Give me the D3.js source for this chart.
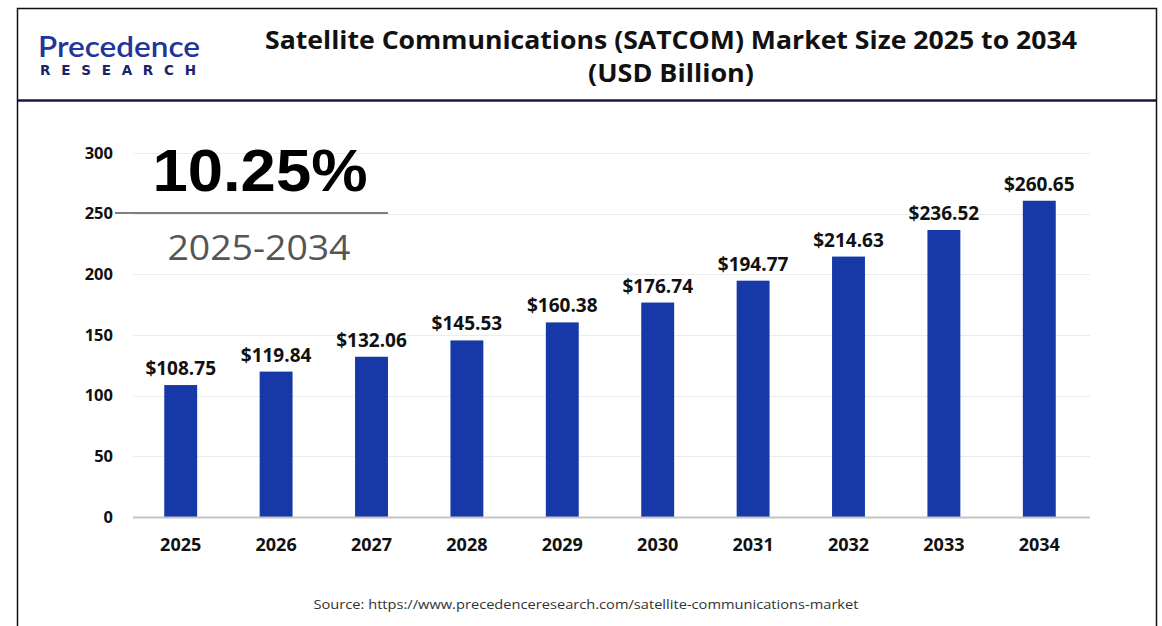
<!DOCTYPE html>
<html>
<head>
<meta charset="utf-8">
<script src="https://cdn.jsdelivr.net/npm/d3@7"></script>
<style>
  html, body { margin: 0; padding: 0; background: #fff; }
  svg { display: block; }
</style>
</head>
<body>
<svg id="chart" width="1162" height="626"></svg>
<script>
// Market size by year, USD billion
const years = ["2025", "2026", "2027", "2028", "2029", "2030", "2031", "2032", "2033", "2034"];
const marketSize = [108.75, 119.84, 132.06, 145.53, 160.38, 176.74, 194.77, 214.63, 236.52, 260.65];
const yTicks = [0, 50, 100, 150, 200, 250, 300];
const titleLines = ["Satellite Communications (SATCOM) Market Size 2025 to 2034", "(USD Billion)"];
const cagrText = "10.25%";
const cagrPeriod = "2025-2034";
const sourceText = "Source: https://www.precedenceresearch.com/satellite-communications-market";

const svg = d3.select("#chart");
const W = 1162, H = 626;

// Frame and header divider
svg.append("rect").attr("x", 0).attr("y", 0).attr("width", W).attr("height", H).attr("fill", "#fff");
svg.append("path")
  .attr("d", `M17.5,${H} V8.5 H1156.5 V${H}`)
  .attr("fill", "none").attr("stroke", "#111").attr("stroke-width", 1.5);
svg.append("line")
  .attr("x1", 18).attr("x2", 1156).attr("y1", 100.5).attr("y2", 100.5)
  .attr("stroke", "#14184a").attr("stroke-width", 2.5);

// Logo
const logo = svg.append("g");
logo.append("text")
  .attr("x", 38).attr("y", 57)
  .attr("font-family", "Lato, 'Open Sans', sans-serif")
  .attr("font-size", 29).attr("font-weight", 600)
  .attr("fill", "#22359a")
  .attr("textLength", 162).attr("lengthAdjust", "spacingAndGlyphs")
  .text("Precedence");
logo.append("text")
  .attr("x", 40).attr("y", 75)
  .attr("font-family", "'DejaVu Sans', sans-serif")
  .attr("font-size", 13.5).attr("font-weight", 700)
  .attr("fill", "#17246b")
  .attr("textLength", 156).attr("lengthAdjust", "spacing")
  .text("RESEARCH");

// Title
svg.append("text")
  .attr("x", 671).attr("y", 49)
  .attr("text-anchor", "middle")
  .attr("font-family", "'Open Sans', sans-serif")
  .attr("font-size", 25).attr("font-weight", 700)
  .attr("fill", "#111")
  .attr("textLength", 812).attr("lengthAdjust", "spacingAndGlyphs")
  .text(titleLines[0]);
svg.append("text")
  .attr("x", 671).attr("y", 82)
  .attr("text-anchor", "middle")
  .attr("font-family", "'Open Sans', sans-serif")
  .attr("font-size", 25).attr("font-weight", 700)
  .attr("fill", "#111")
  .attr("textLength", 166).attr("lengthAdjust", "spacingAndGlyphs")
  .text(titleLines[1]);

// Scales
const x = d3.scaleBand().domain(years).range([133, 1087]).paddingInner(0.655).paddingOuter(0.3275);
const y = d3.scaleLinear().domain([0, 300]).range([517, 153]);

// Gridlines
svg.append("g")
  .selectAll("line")
  .data(yTicks.filter(d => d > 0))
  .join("line")
  .attr("x1", 133).attr("x2", 1090)
  .attr("y1", d => Math.round(y(d)) + 0.5).attr("y2", d => Math.round(y(d)) + 0.5)
  .attr("stroke", "#ececec").attr("stroke-width", 1);

// Y axis labels
const yAxis = svg.append("g")
  .attr("transform", "translate(113,0)")
  .call(d3.axisLeft(y).tickValues(yTicks).tickSize(0).tickPadding(0));
yAxis.select(".domain").remove();
yAxis.selectAll("text")
  .attr("font-family", "'Open Sans', sans-serif")
  .attr("font-size", 16.5).attr("font-weight", 700)
  .attr("fill", "#111");

// Bars
svg.append("g")
  .selectAll("rect")
  .data(years.map((yr, i) => ({ yr, v: marketSize[i] })))
  .join("rect")
  .attr("x", d => x(d.yr))
  .attr("width", x.bandwidth())
  .attr("y", d => y(d.v))
  .attr("height", d => y(0) - y(d.v))
  .attr("fill", "#1739a8");

// Baseline
svg.append("line")
  .attr("x1", 133).attr("x2", 1090)
  .attr("y1", y(0) + 0.5).attr("y2", y(0) + 0.5)
  .attr("stroke", "#c4c4c4").attr("stroke-width", 2);

// X axis labels
const xAxis = svg.append("g")
  .attr("transform", `translate(0,${y(0)})`)
  .call(d3.axisBottom(x).tickSize(0).tickPadding(21));
xAxis.select(".domain").remove();
xAxis.selectAll("text")
  .attr("font-family", "'Open Sans', sans-serif")
  .attr("font-size", 18).attr("font-weight", 700)
  .attr("fill", "#111");

// Value labels
svg.append("g")
  .selectAll("text")
  .data(years.map((yr, i) => ({ yr, v: marketSize[i] })))
  .join("text")
  .attr("x", d => x(d.yr) + x.bandwidth() / 2)
  .attr("y", d => y(d.v) - 10)
  .attr("text-anchor", "middle")
  .attr("font-family", "'Open Sans', sans-serif")
  .attr("font-size", 19).attr("font-weight", 700)
  .attr("fill", "#111")
  .text(d => "$" + d3.format(".2f")(d.v));

// CAGR callout
svg.append("text")
  .attr("x", 260).attr("y", 191)
  .attr("text-anchor", "middle")
  .attr("font-family", "'Liberation Sans', Arial, sans-serif")
  .attr("font-size", 60).attr("font-weight", 700)
  .attr("fill", "#000")
  .attr("textLength", 215).attr("lengthAdjust", "spacingAndGlyphs")
  .text(cagrText);
svg.append("line")
  .attr("x1", 115).attr("x2", 388).attr("y1", 213).attr("y2", 213)
  .attr("stroke", "#555").attr("stroke-width", 1.5);
svg.append("text")
  .attr("x", 259).attr("y", 260)
  .attr("text-anchor", "middle")
  .attr("font-family", "'Open Sans', sans-serif")
  .attr("font-size", 34)
  .attr("fill", "#555")
  .attr("textLength", 183).attr("lengthAdjust", "spacingAndGlyphs")
  .text(cagrPeriod);

// Source
svg.append("text")
  .attr("x", 586).attr("y", 609)
  .attr("text-anchor", "middle")
  .attr("font-family", "'Open Sans', sans-serif")
  .attr("font-size", 13)
  .attr("fill", "#333")
  .attr("textLength", 545).attr("lengthAdjust", "spacingAndGlyphs")
  .text(sourceText);
</script>
</body>
</html>
